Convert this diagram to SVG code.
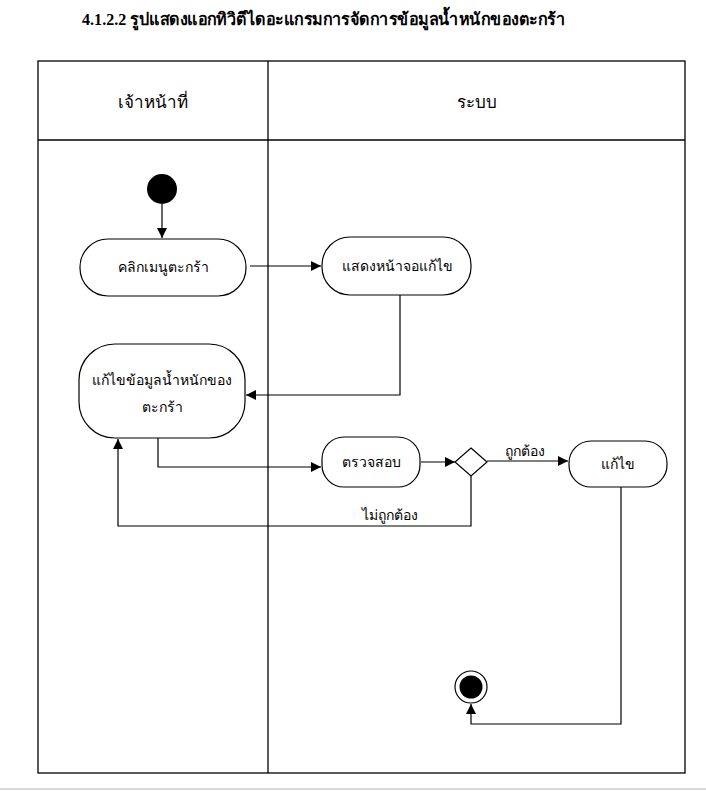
<svg xmlns="http://www.w3.org/2000/svg" width="706" height="791" viewBox="0 0 706 791">
<defs>
<marker id="ah" viewBox="0 0 10 10" refX="10" refY="5" markerWidth="10" markerHeight="10" markerUnits="userSpaceOnUse" orient="auto">
<path d="M0,0 L10,5 L0,10 z" fill="#000"/>
</marker>
<style>
.frame{fill:none;stroke:#000;stroke-width:1.3}
.node{fill:#fff;stroke:#000;stroke-width:1.2}
.conn{fill:none;stroke:#000;stroke-width:1.2;marker-end:url(#ah)}
.t{font-family:"Liberation Serif","DejaVu Sans",serif;font-size:14px;fill:#000;text-anchor:middle}
.h{font-family:"Liberation Serif","DejaVu Sans",serif;font-size:17px;fill:#000;text-anchor:middle}
.title{font-family:"Liberation Serif","DejaVu Serif",serif;font-size:17px;font-weight:bold;fill:#000}
</style>
</defs>
<rect width="706" height="791" fill="#fff"/>
<text class="title" x="82" y="25" textLength="483" lengthAdjust="spacingAndGlyphs">4.1.2.2 รูปแสดงแอกทิวิตีไดอะแกรมการจัดการข้อมูลน้ำหนักของตะกร้า</text>
<g id="lanes">
<rect class="frame" x="38" y="61" width="647" height="712"/>
<line class="frame" x1="268" y1="61" x2="268" y2="773"/>
<line class="frame" x1="38" y1="140" x2="685" y2="140"/>
<text class="h" x="153" y="108">เจ้าหน้าที่</text>
<text class="h" x="477" y="108">ระบบ</text>
</g>
<line x1="0" y1="789" x2="706" y2="789" stroke="#ccc" stroke-width="1.5"/>
<g id="connectors">
<path class="conn" d="M162,204 L162,238"/>
<path class="conn" d="M250,266 L321,266"/>
<path class="conn" d="M400,295 L400,395 L246,395"/>
<path class="conn" d="M158,438 L158,467 L321,467"/>
<path class="conn" d="M421,462 L455,462"/>
<path class="conn" d="M487,461 L568,461"/>
<path class="conn" d="M471,476 L471,526 L118,526 L118,439"/>
<path class="conn" d="M621,487 L621,724 L471,724 L471,704"/>
<text class="t" x="525" y="456">ถูกต้อง</text>
<text class="t" x="390" y="520">ไม่ถูกต้อง</text>
</g>
<g id="start"><circle cx="162" cy="189" r="15" fill="#000"/></g>
<g id="n1"><rect class="node" x="80" y="239" width="166" height="57" rx="28" ry="28"/><text class="t" x="163" y="272">คลิกเมนูตะกร้า</text></g>
<g id="n2"><rect class="node" x="322" y="237" width="149" height="58" rx="28" ry="28"/><text class="t" x="397" y="271">แสดงหน้าจอแก้ไข</text></g>
<g id="n3"><rect class="node" x="79" y="344" width="166" height="94" rx="36" ry="36"/><text class="t" x="162" y="385">แก้ไขข้อมูลน้ำหนักของ</text><text class="t" x="162" y="412">ตะกร้า</text></g>
<g id="n4"><rect class="node" x="322" y="437" width="98" height="50" rx="22" ry="22"/><text class="t" x="371" y="467">ตรวจสอบ</text></g>
<g id="decision"><path class="node" d="M471,448 L487,462 L471,476 L455,462 z"/></g>
<g id="n5"><rect class="node" x="569" y="441" width="98" height="46" rx="22" ry="22"/><text class="t" x="618" y="469">แก้ไข</text></g>
<g id="end"><circle cx="471" cy="687" r="16" fill="#fff" stroke="#000" stroke-width="1.2"/><circle cx="471" cy="687" r="11.5" fill="#000"/></g>
</svg>
